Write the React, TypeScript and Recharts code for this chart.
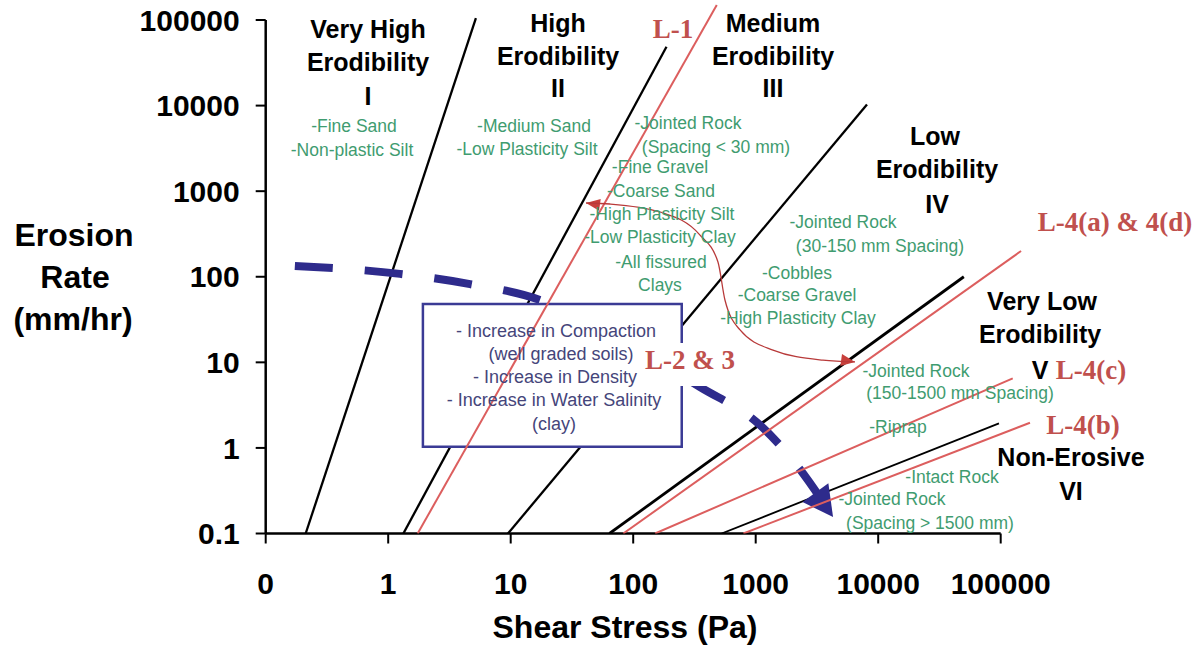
import React from 'react';
import { LineChart, Line, XAxis, YAxis, ReferenceArea, ReferenceLine } from 'recharts';

// ---------- data ----------
const xTicks = [0.1, 1, 10, 100, 1000, 10000, 100000];
const yTicks = [0.1, 1, 10, 100, 1000, 10000, 100000];
const X_MAX = 199526; // 10^5.3 (room for lines running past 100000)
const Y_MAX = 158489; // 10^5.2

// category boundaries (black)
const boundaryI_II = [{ x: 0.212, y: 0.1 }, { x: 5.2, y: 105000 }];
const boundaryII_III = [{ x: 1.33, y: 0.1 }, { x: 187, y: 48700 }];
const boundaryIII_IV = [{ x: 9.5, y: 0.1 }, { x: 8100, y: 10300 }];
const boundaryIV_V = [{ x: 64, y: 0.1 }, { x: 50000, y: 100 }];
const boundaryV_VI = [{ x: 527, y: 0.1 }, { x: 96800, y: 1.94 }];

// measured lines (red)
const lineL1 = [{ x: 1.74, y: 0.1 }, { x: 481, y: 150000 }];
const lineL4ad = [{ x: 83, y: 0.1 }, { x: 146600, y: 200 }];
const lineL4c = [{ x: 151, y: 0.1 }, { x: 125400, y: 6.5 }];
const lineL4b = [{ x: 793, y: 0.1 }, { x: 173400, y: 1.97 }];

// blue dashed trend arrow
const trendArrow = [
  { x: 0.173, y: 134 },
  { x: 1.25, y: 108 },
  { x: 4.66, y: 82 },
  { x: 17.3, y: 53.5 },
  { x: 64.7, y: 20.9 },
  { x: 351, y: 5.15 },
  { x: 1084, y: 1.85 },
  { x: 2094, y: 0.667 },
  { x: 4280, y: 0.156 },
];

// red double-headed curved arrow
const curveArrow = [
  { x: 41.2, y: 728 },
  { x: 64.7, y: 708 },
  { x: 165.6, y: 571 },
  { x: 351, y: 307 },
  { x: 492, y: 149 },
  { x: 561, y: 53.5 },
  { x: 745, y: 23.9 },
  { x: 1384, y: 13.9 },
  { x: 3540, y: 10.6 },
  { x: 6470, y: 10.1 },
];

// box in data coordinates
const boxX = [1.92, 249];
const boxY = [1.03, 48.1];

// texts
const zoneTitles = [
  ['Very High', 'Erodibility', 'I'],
  ['High', 'Erodibility', 'II'],
  ['Medium', 'Erodibility', 'III'],
  ['Low', 'Erodibility', 'IV'],
  ['Very Low', 'Erodibility', 'V'],
  ['Non-Erosive', 'VI'],
];
const soilLabels = [
  ['-Fine Sand', '-Non-plastic Silt'],
  ['-Medium Sand', '-Low Plasticity Silt'],
  ['-Jointed Rock', '(Spacing < 30 mm)', '-Fine Gravel', '-Coarse Sand', '-High Plasticity Silt', '-Low Plasticity Clay', '-All fissured', 'Clays'],
  ['-Jointed Rock', '(30-150 mm Spacing)', '-Cobbles', '-Coarse Gravel', '-High Plasticity Clay'],
  ['-Jointed Rock', '(150-1500 mm Spacing)', '-Riprap'],
  ['-Intact Rock', '-Jointed Rock', '(Spacing > 1500 mm)'],
];
const boxLabels = ['- Increase in Compaction', '(well graded soils)', '- Increase in Density', '- Increase in Water Salinity', '(clay)'];
const lineLabels = ['L-1', 'L-4(a) & 4(d)', 'L-2 & 3', 'L-4(c)', 'L-4(b)'];
const yTitle = ['Erosion', 'Rate', '(mm/hr)'];
const xTitle = 'Shear Stress (Pa)';

// ---------- layout (page pixels, text centres) ----------
const zoneLayout = [
  [[368, 29], [368, 62], [368, 96]],
  [[558, 23], [558, 56], [558, 88]],
  [[773, 23], [773, 56], [773, 88]],
  [[935, 136], [937, 169], [937, 204]],
  [[1042, 301], [1040, 334], [1040, 370]],
  [[1071, 457], [1071, 491]],
];
const soilLayout = [
  [[354, 126], [352, 150]],
  [[534, 126], [527, 149]],
  [[688, 123], [716, 147], [660, 167], [661, 191], [662, 214], [660, 237], [661, 262], [660, 285]],
  [[843, 222], [880, 246], [797, 273], [797, 295], [798, 318]],
  [[916, 371], [960, 393], [898, 427]],
  [[952, 477], [892, 499], [930, 523]],
];
const boxLayout = [[556, 331], [561, 354], [555, 377], [554, 400], [554, 424]];
const lineLabelLayout = [[673, 29], [1115, 222], [690, 360], [1091, 370], [1083, 425]];
const yTitleLayout = [[74, 235], [75, 277], [73, 319]];

const SANS = '"Liberation Sans", Arial, Helvetica, sans-serif';
const SERIF = '"Liberation Serif", "Times New Roman", serif';
const RED_LINE = '#dc5e5e';
const RED_TEXT = '#c0504d';
const BLUE = '#2e2b8c';
const GREEN = '#3f9c70';
const BOX_TEXT = '#45457a';
const BOX_BORDER = '#3b3b95';

const fmtX = (v: number) => (v === 0.1 ? '0' : String(v));
const fmtY = (v: number) => String(v);

function arrowDot(count: number, ends: { first?: number; last?: number }, len: number, half: number, fill: string) {
  return (p: any) => {
    const k = `dot-${p.index}`;
    let angle: number | undefined;
    if (p.index === 0 && ends.first !== undefined) angle = ends.first;
    if (p.index === count - 1 && ends.last !== undefined) angle = ends.last;
    if (angle === undefined || p.cx == null || p.cy == null) return <g key={k} />;
    return (
      <polygon
        key={k}
        points={`0,0 ${-len},${-half} ${-len},${half}`}
        transform={`translate(${p.cx},${p.cy}) rotate(${angle})`}
        fill={fill}
      />
    );
  };
}

export default function App() {
  const black = (data: any[], w: number, key: string) => (
    <Line key={key} data={data} dataKey="y" type="linear" stroke="#000" strokeWidth={w} dot={false} activeDot={false} isAnimationActive={false} />
  );
  const red = (data: any[], key: string) => (
    <Line key={key} data={data} dataKey="y" type="linear" stroke={RED_LINE} strokeWidth={2} dot={false} activeDot={false} isAnimationActive={false} {...({ zIndex: 700 } as any)} />
  );
  return (
    <div style={{ position: 'absolute', left: 0, top: 0, width: 1202, height: 649, background: '#fff' }}>
      <LineChart width={1202} height={649} margin={{ top: 2.9, right: 164.55, bottom: 55.5, left: 165.7 }}>
        <XAxis
          type="number"
          dataKey="x"
          scale="log"
          domain={[0.1, X_MAX]}
          allowDataOverflow
          ticks={xTicks}
          interval={0}
          tickFormatter={fmtX}
          axisLine={false}
          tickSize={10}
          tickMargin={29}
          height={60}
          tickLine={{ stroke: '#000', strokeWidth: 2 }}
          tick={{ fontSize: 30, fontWeight: 700, fill: '#000', fontFamily: SANS }}
        />
        <YAxis
          type="number"
          dataKey="y"
          scale="log"
          domain={[0.1, Y_MAX]}
          allowDataOverflow
          ticks={yTicks}
          interval={0}
          tickFormatter={fmtY}
          axisLine={false}
          tickSize={10}
          tickMargin={16}
          width={100}
          tickLine={{ stroke: '#000', strokeWidth: 2 }}
          tick={{ fontSize: 30, fontWeight: 700, fill: '#000', fontFamily: SANS }}
        />
        <ReferenceLine segment={[{ x: 0.1, y: 0.1 }, { x: 100000, y: 0.1 }]} stroke="#000" strokeWidth={2.5} ifOverflow="visible" />
        <ReferenceLine segment={[{ x: 0.1, y: 0.1 }, { x: 0.1, y: 100000 }]} stroke="#000" strokeWidth={2.5} ifOverflow="visible" />
        {black(boundaryI_II, 2.3, 'b1')}
        {black(boundaryII_III, 2.3, 'b2')}
        {black(boundaryIII_IV, 2.3, 'b3')}
        {black(boundaryIV_V, 2.8, 'b4')}
        {black(boundaryV_VI, 1.8, 'b5')}
        <Line
          data={trendArrow}
          dataKey="y"
          type="monotone"
          stroke={BLUE}
          strokeWidth={8}
          strokeDasharray="38 32"
          dot={arrowDot(trendArrow.length, { last: 54 }, 30, 16, BLUE)}
          activeDot={false}
          isAnimationActive={false}
        />
        <ReferenceArea
          x1={boxX[0]}
          x2={boxX[1]}
          y1={boxY[0]}
          y2={boxY[1]}
          fill="#fff"
          fillOpacity={1}
          stroke={BOX_BORDER}
          strokeWidth={2.5}
          {...({ zIndex: 650 } as any)}
        />
        {red(lineL1, 'r1')}
        {red(lineL4ad, 'r2')}
        {red(lineL4c, 'r3')}
        {red(lineL4b, 'r4')}
        <Line
          data={curveArrow}
          dataKey="y"
          type="monotone"
          stroke="#b83a3a"
          strokeWidth={1.3}
          dot={arrowDot(curveArrow.length, { first: 188, last: 8 }, 14, 6, '#c8403c')}
          activeDot={false}
          isAnimationActive={false}
          {...({ zIndex: 700 } as any)}
        />
      </LineChart>
      <svg width={1202} height={649} style={{ position: 'absolute', left: 0, top: 0, pointerEvents: 'none' }}>
        <rect x={643} y={343} width={94} height={43} fill="#fff" />
        {yTitle.map((t, i) => (
          <text key={'yt' + i} x={yTitleLayout[i][0]} y={yTitleLayout[i][1]} textAnchor="middle" dominantBaseline="central" fontFamily={SANS} fontWeight={700} fontSize={32} fill="#000">
            {t}
          </text>
        ))}
        <text x={625} y={627} textAnchor="middle" dominantBaseline="central" fontFamily={SANS} fontWeight={700} fontSize={32} fill="#000">
          {xTitle}
        </text>
        {zoneTitles.map((g, gi) =>
          g.map((t, i) => (
            <text key={`z${gi}-${i}`} x={zoneLayout[gi][i][0]} y={zoneLayout[gi][i][1]} textAnchor="middle" dominantBaseline="central" fontFamily={SANS} fontWeight={700} fontSize={25} fill="#000">
              {t}
            </text>
          ))
        )}
        {soilLabels.map((g, gi) =>
          g.map((t, i) => (
            <text key={`s${gi}-${i}`} x={soilLayout[gi][i][0]} y={soilLayout[gi][i][1]} textAnchor="middle" dominantBaseline="central" fontFamily={SANS} fontSize={17.5} fill={GREEN}>
              {t}
            </text>
          ))
        )}
        {boxLabels.map((t, i) => (
          <text key={'bx' + i} x={boxLayout[i][0]} y={boxLayout[i][1]} textAnchor="middle" dominantBaseline="central" fontFamily={SANS} fontSize={18} fill={BOX_TEXT}>
            {t}
          </text>
        ))}
        {lineLabels.map((t, i) => (
          <text key={'ll' + i} x={lineLabelLayout[i][0]} y={lineLabelLayout[i][1]} textAnchor="middle" dominantBaseline="central" fontFamily={SERIF} fontWeight={700} fontSize={27} fill={RED_TEXT}>
            {t}
          </text>
        ))}
      </svg>
    </div>
  );
}
